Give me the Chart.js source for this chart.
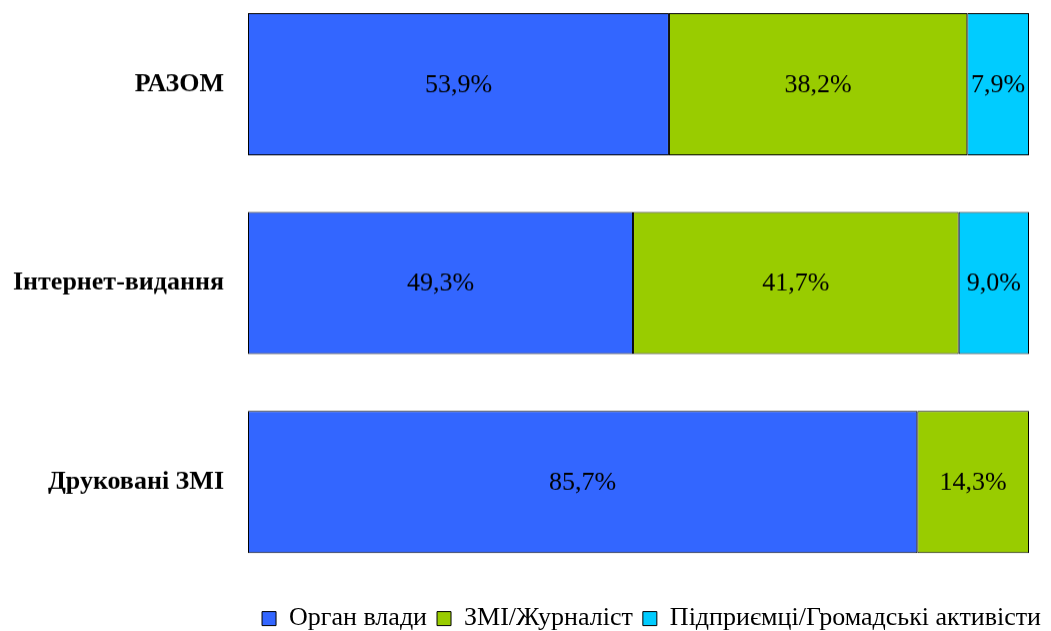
<!DOCTYPE html>
<html>
<head>
<meta charset="utf-8">
<script src="https://cdn.jsdelivr.net/npm/chart.js@4"></script>
<style>
  html, body { margin: 0; padding: 0; background: #fff; }
  #wrap { width: 1051px; height: 631px; position: relative; overflow: hidden; }
  #inner { position: absolute; left: 0; top: 0; width: 1051px; height: 631px; }
</style>
</head>
<body>
<div id="wrap"><div id="inner"><canvas id="chart"></canvas></div></div>
<script>
// categories and series (percent)
const categories = ['РАЗОМ', 'Інтернет-видання', 'Друковані ЗМІ'];
const seriesNames = ['Орган влади', 'ЗМІ/Журналіст', 'Підприємці/Громадські активісти'];
const organVlady = [53.9, 49.3, 85.7];
const zmiZhurnalist = [38.2, 41.7, 14.3];
const pidpryiemtsi = [7.9, 9.0, 0];
const colors = ['#3366FF', '#99CC00', '#00CCFF'];

const serif = "'Liberation Serif', 'Times New Roman', serif";

// labels inside each bar segment
const valueLabels = {
  id: 'valueLabels',
  afterDatasetsDraw(chart) {
    const ctx = chart.ctx;
    ctx.save();
    ctx.font = '26px ' + serif;
    ctx.fillStyle = '#000';
    ctx.textAlign = 'center';
    ctx.textBaseline = 'middle';
    chart.data.datasets.forEach((ds, i) => {
      chart.getDatasetMeta(i).data.forEach((bar, j) => {
        const v = ds.data[j];
        if (!v) return;
        const cx = (bar.x + bar.base) / 2;
        ctx.fillText(v.toFixed(1).replace('.', ',') + '%', cx, bar.y + 1);
      });
    });
    ctx.restore();
  }
};

const chart = new Chart(document.getElementById('chart'), {
  type: 'bar',
  data: {
    labels: categories,
    datasets: [organVlady, zmiZhurnalist, pidpryiemtsi].map((d, i) => ({
      label: seriesNames[i],
      data: d,
      backgroundColor: colors[i],
      borderColor: '#000',
      borderWidth: 1,
      borderSkipped: false,
      categoryPercentage: 1,
      barPercentage: 0.715
    }))
  },
  options: {
    indexAxis: 'y',
    responsive: true,
    maintainAspectRatio: false,
    animation: false,
    layout: { padding: 0 },
    scales: {
      x: {
        stacked: true,
        min: 0,
        max: 100,
        grid: { display: false },
        border: { display: false },
        ticks: { display: false },
        afterFit(s) { s.height = 14; }
      },
      y: {
        stacked: true,
        grid: { display: false },
        border: { display: false },
        ticks: {
          color: '#000',
          padding: 16,
          font: { family: serif, size: 26, weight: 'bold' }
        },
        afterFit(s) { s.width = 248; }
      },
      yr: {
        type: 'category',
        position: 'right',
        grid: { display: false },
        border: { display: false },
        ticks: { display: false },
        afterFit(s) { s.width = 22; }
      }
    },
    plugins: {
      legend: {
        position: 'bottom',
        align: 'end',
        labels: {
          color: '#000',
          boxWidth: 14,
          boxHeight: 14,
          padding: 10,
          font: { family: serif, size: 26 }
        }
      },
      tooltip: { enabled: false }
    }
  },
  plugins: [valueLabels]
});

// stretch the canvas so the plot area spans the same band as the reference
function fitArea() {
  const ca = chart.chartArea;
  const below = chart.height - ca.bottom;
  const inner = document.getElementById('inner');
  const wantTop = -15, wantBottom = 581;
  inner.style.top = (wantTop - ca.top) + 'px';
  inner.style.height = (ca.top + (wantBottom - wantTop) + below) + 'px';
  chart.resize();
}
fitArea();
fitArea();
</script>
</body>
</html>
